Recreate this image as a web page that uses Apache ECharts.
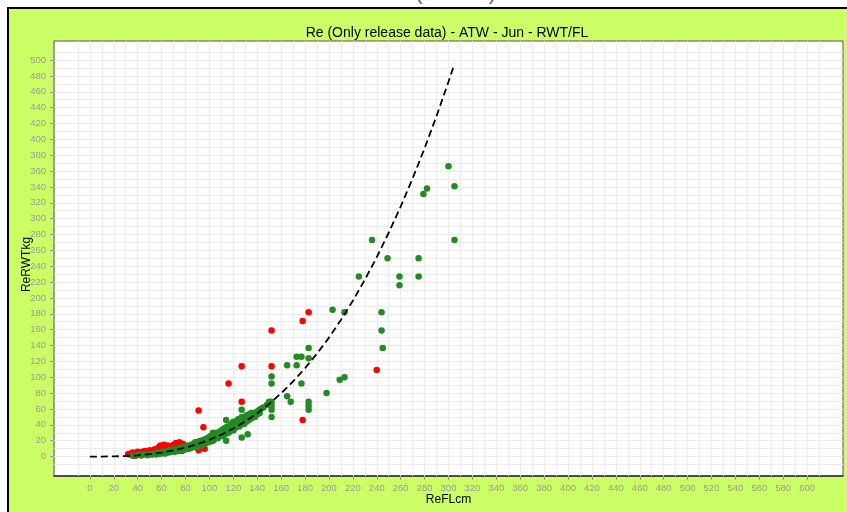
<!DOCTYPE html>
<html>
<head>
<meta charset="utf-8">
<script src="https://cdn.jsdelivr.net/npm/echarts@6/dist/echarts.min.js"></script>
<style>
  html, body { margin: 0; padding: 0; width: 847px; height: 512px; overflow: hidden; background: #fff;
               font-family: 'Liberation Sans', Arial, sans-serif; }
  #caption { position: absolute; left: 362px; top: -19px; font-size: 22px; line-height: 22px;
             color: #666; white-space: nowrap; }
  #frame { position: absolute; left: 7px; top: 7px; width: 900px; height: 600px; background: #ccff66;
           border-left: 2px solid #000; border-top: 2px solid #000; }
  #chart { position: absolute; left: 0; top: 0; width: 847px; height: 512px; }
</style>
</head>
<body>
<div id="caption">ATW (Jun 03)</div>
<div id="frame"></div>
<div id="chart"></div>
<script>
// Axis tick values
const xTicks = [0,20,40,60,80,100,120,140,160,180,200,220,240,260,280,300,320,340,360,380,400,420,440,460,480,500,520,540,560,580,600];
const yTicks = [0,20,40,60,80,100,120,140,160,180,200,220,240,260,280,300,320,340,360,380,400,420,440,460,480,500];

// Fitted weight-length curve (dashed)
const curveFL  = [0,10,20,30,40,50,60,70,80,90,100,110,120,130,140,150,160,170,180,190,200,210,220,230,240,250,260,270,280,290,300,305];
const curveRWT = [0,0.03,0.22,0.7,1.6,3.0,5.0,7.7,11.2,15.7,21.1,27.6,35.4,44.3,54.7,66.5,79.8,94.7,111.4,129.8,150.0,172.3,196.5,222.9,251.4,282.2,315.3,350.8,388.8,429.4,472.7,495.2];

// Release records, [FL cm, RWT kg]
const releaseGreen = [
  [36,1],[40,2],[43,1.5],[45,3],[48,2],[50,3],[52,2.5],[54,4],[55,3],[57,5],[58,3.5],[60,4],
  [61,6],[62,5],[63,4],[64,6],[65,7],[66,5],[67,8],[68,6],[69,7],[70,9],[71,6],[72,8],
  [73,10],[74,7],[75,9],[76,11],[77,8],[78,10],[79,12],[80,9],[80,13],[81,11],[82,14],[83,10],
  [84,12],[85,15],[85,11],[86,13],[87,16],[88,12],[88,18],[89,14],[90,16],[90,12],[91,19],[92,15],
  [92,17],[93,20],[94,14],[94,18],[95,16],[95,21],[96,19],[97,22],[97,17],[98,20],[99,24],[99,18],
  [100,21],[100,23],[101,19],[101,26],[102,22],[102,24],[103,27],[103,20],[103,30],[104,25],[104,22],[105,28],
  [105,24],[106,26],[106,30],[107,23],[107,27],[108,29],[108,25],[109,32],[109,27],[110,28],[110,31],[111,26],
  [111,34],[112,30],[112,33],[113,28],[113,36],[114,31],[114,46],[114,20],[115,33],[115,38],[116,30],[116,35],
  [117,37],[117,32],[118,40],[118,34],[119,36],[119,42],[120,38],[120,33],[120,44],[121,40],[121,35],[122,42],
  [122,37],[123,45],[123,39],[124,41],[124,47],[125,43],[125,38],[126,45],[126,40],[127,50],[127,59],[127,24],
  [127,42],[128,46],[128,44],[129,48],[129,41],[130,47],[130,50],[131,44],[131,52],[132,28],[132,49],[133,46],
  [133,53],[134,51],[135,48],[135,55],[136,52],[137,54],[138,50],[139,56],[140,53],[141,58],[142,55],[143,60],
  [145,62],[148,65],[150,69],[152,50],[152,59],[152,64],[152,69],[152,92],[152,101],[165,76],[168,69],[165,115],
  [173,115],[173,126],[177,126],[177,92],[183,124],[183,137],[183,59],[183,64],[183,69],[198,80],[203,185],[209,97],
  [213,100],[213,182],[225,227],[236,273],[244,182],[244,159],[245,137],[249,250],[259,227],[259,216],[275,250],[275,227],
  [279,331],[282,338],[300,366],[305,341],[305,273]
];
const releaseRed = [
  [32,3],[34,4],[35,2],[36,5],[37,3],[38,1],[39,4],[40,6],[41,3],[42,5],[43,2],[44,6],
  [45,4],[46,7],[47,5],[48,2],[49,6],[50,8],[51,5],[52,7],[53,4],[54,9],[55,6],[56,10],
  [57,8],[58,12],[59,14],[60,11],[61,13],[62,15],[63,10],[64,12],[65,14],[66,11],[67,13],[68,9],
  [69,12],[70,15],[71,13],[72,17],[73,14],[74,16],[75,18],[76,15],[77,13],[78,16],[79,12],[66,6],
  [56,3],[77,7],[91,8],[96,10],[91,58],[95,37],[116,92],[127,69],[127,114],[152,114],[152,159],[178,171],
  [183,182],[178,46],[240,109]
];

// major grid at ticks, minor grid halfway between them (and one half-step beyond each end)
function gridValues(ticks) {
  const half = (ticks[1] - ticks[0]) / 2;
  const out = [ticks[0] - half];
  ticks.forEach(t => { out.push(t); out.push(t + half); });
  return out;
}
const gridLines = gridValues(xTicks).map(v => ({ xAxis: v }))
  .concat(gridValues(yTicks).map(v => ({ yAxis: v })));

const FONT = "'Liberation Sans', Arial, sans-serif";
const chart = echarts.init(document.getElementById('chart'), null, { renderer: 'canvas' });

const pointStyle = (color) => ({ color: color, opacity: 1, borderWidth: 0 });

chart.setOption({
  backgroundColor: 'transparent',
  animation: false,
  title: {
    text: 'Re (Only release data) - ATW - Jun - RWT/FL',
    left: 442, top: 21, textAlign: 'center',
    textStyle: { fontFamily: FONT, fontSize: 14, fontWeight: 'normal', color: '#000' }
  },
  grid: {
    left: 54, top: 41, right: 4, bottom: 36,
    show: true, backgroundColor: '#fff', borderColor: '#555', borderWidth: 1,
    outerBoundsMode: 'none'
  },
  xAxis: {
    type: 'value', min: -30, max: 630,
    name: 'ReFLcm', nameLocation: 'middle', nameGap: 18, nameMoveOverlap: false,
    nameTextStyle: { fontFamily: FONT, fontSize: 12, color: '#000' },
    axisLine: { show: true, onZero: false, lineStyle: { color: '#333', width: 1.5 } },
    axisTick: { show: true, length: 4, customValues: xTicks, lineStyle: { color: '#999' } },
    axisLabel: { customValues: xTicks, margin: 7, fontFamily: FONT, fontSize: 9.5, color: '#999',
                 showMinLabel: true, showMaxLabel: true },
    splitLine: { show: false }
  },
  yAxis: {
    type: 'value', min: -24.5, max: 524,
    name: 'ReRWTkg', nameLocation: 'middle', nameGap: 21, nameMoveOverlap: false,
    nameTextStyle: { fontFamily: FONT, fontSize: 12, color: '#000', padding: [0, 12, 0, 0] },
    axisLine: { show: true, onZero: false, lineStyle: { color: '#999', width: 1.5 } },
    axisTick: { show: true, length: 4, customValues: yTicks, lineStyle: { color: '#999' } },
    axisLabel: { customValues: yTicks, margin: 8, fontFamily: FONT, fontSize: 9.5, color: '#999',
                 showMinLabel: true, showMaxLabel: true },
    splitLine: { show: false }
  },
  series: [
    {
      type: 'scatter', data: [], silent: true, z: 1,
      markLine: {
        z: 1, zlevel: 0,
        silent: true, symbol: ['none', 'none'], label: { show: false },
        lineStyle: { color: '#ececec', type: 'solid', width: 1 },
        emphasis: { disabled: true },
        data: gridLines
      }
    },
    {
      name: 'red', type: 'scatter', data: releaseRed, z: 3,
      symbol: 'circle', symbolSize: 6.5,
      itemStyle: pointStyle('#ff0000')
    },
    {
      name: 'green', type: 'scatter', data: releaseGreen, z: 4,
      symbol: 'circle', symbolSize: 6.5,
      itemStyle: pointStyle('#228b22')
    },
    {
      name: 'fit', type: 'line', z: 6, showSymbol: false, symbol: 'none',
      data: curveFL.map((x, i) => [x, curveRWT[i]]),
      lineStyle: { color: '#000', width: 1.8, type: [7, 4] }
    }
  ]
});
</script>
</body>
</html>
